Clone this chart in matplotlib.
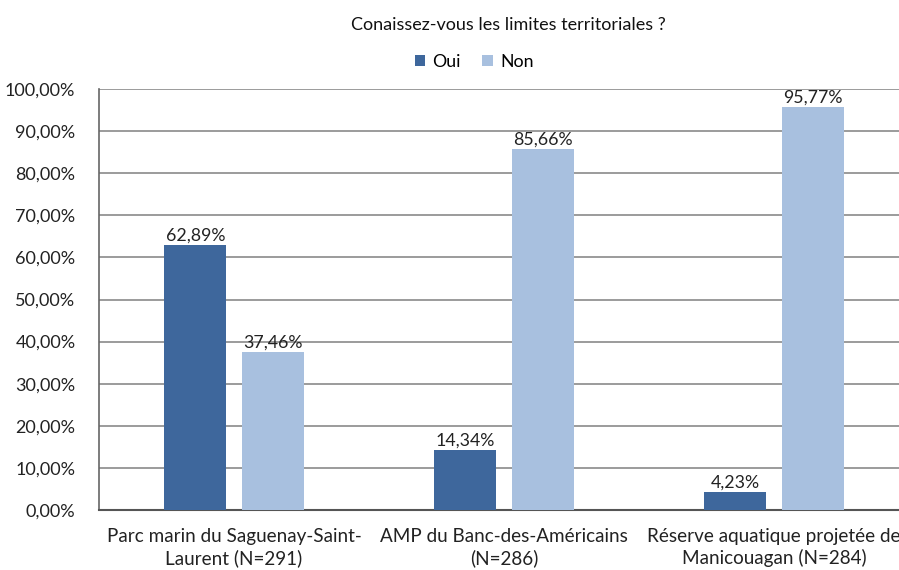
import matplotlib
matplotlib.use("Agg")
import matplotlib.pyplot as plt
import numpy as np

categories = ["Parc marin du Saguenay-Saint-\nLaurent (N=291)",
              "AMP du Banc-des-Américains\n(N=286)",
              "Réserve aquatique projetée de\nManicouagan (N=284)"]
series_names = ["Oui", "Non"]
oui = [62.89, 14.34, 4.23]
non = [37.46, 85.66, 95.77]
yticks = [0, 10, 20, 30, 40, 50, 60, 70, 80, 90, 100]
title = "Conaissez-vous les limites territoriales ?"

plt.rcParams['font.family'] = ['Lato', 'DejaVu Sans']

fig = plt.figure(figsize=(8.99, 5.70), dpi=100)
ax = fig.add_axes([99/899, 1-510/570, 810/899, 421/570])

x = np.arange(len(categories))
w = 0.23
off = 0.143
c_oui = "#3E679C"
c_non = "#A8C0DF"
b1 = ax.bar(x - off, oui, w, color=c_oui, label=series_names[0], zorder=3)
b2 = ax.bar(x + off, non, w, color=c_non, label=series_names[1], zorder=3)

def fmt(v):
    return f"{v:.2f}".replace(".", ",") + "%"

for bars, vals in ((b1, oui), (b2, non)):
    for b, v in zip(bars, vals):
        ax.annotate(fmt(v), (b.get_x() + b.get_width()/2, v), xytext=(0, 1),
                    textcoords="offset points", ha="center", va="bottom",
                    fontsize=12.8, color="#222222", zorder=4)

ax.set_xlim(-0.5, len(categories) - 0.5)
ax.set_ylim(0, 100)
ax.set_yticks(yticks)
ax.set_yticklabels([f"{t},00%" for t in yticks], fontsize=13, color="#222222")
ax.set_xticks(x)
ax.set_xticklabels(categories, fontsize=13.6, color="#222222", linespacing=1.25)
ax.tick_params(axis='x', length=0, pad=13)
ax.tick_params(axis='y', length=0, pad=17)
ax.yaxis.grid(True, color="#8a8a8a", linewidth=1.2, zorder=0)
ax.set_axisbelow(True)
for s in ("top", "right"):
    ax.spines[s].set_visible(False)
ax.spines["left"].set_color("#666666")
ax.spines["left"].set_linewidth(1.2)
ax.spines["bottom"].set_color("#555555")
ax.spines["bottom"].set_linewidth(1.5)

fig.text(508/899, 1-25/570, title, ha="center", va="center", fontsize=13, color="#111111")
fig.legend(handles=[b1, b2], labels=series_names, loc="center", bbox_to_anchor=(474/899, 1-62/570),
           ncol=2, frameon=False, fontsize=12.8, handlelength=0.6, handleheight=0.6,
           columnspacing=1.2, handletextpad=0.4)

fig.savefig("out.png", dpi=100)
